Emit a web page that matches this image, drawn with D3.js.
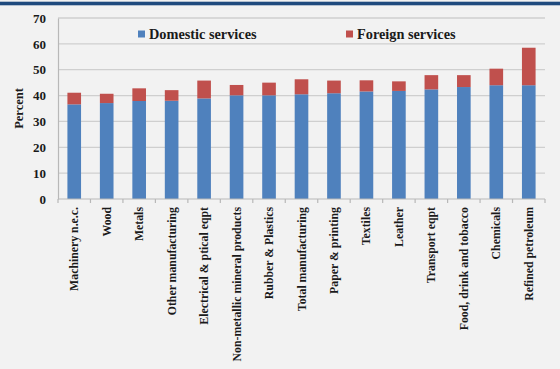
<!DOCTYPE html>
<html>
<head>
<meta charset="utf-8">
<script src="https://cdn.jsdelivr.net/npm/d3@7"></script>
<style>
  html, body { margin: 0; padding: 0; background: #f2f2f2; }
  svg { display: block; }
  text { font-family: "Liberation Serif", "Times New Roman", serif; font-weight: bold; fill: #1a1a1a; }
</style>
</head>
<body>
<svg id="chart" width="560" height="369"></svg>
<script>
// Service content of manufacturing output, by sector
const categories = [
  "Machinery n.e.c.", "Wood", "Metals", "Other manufacturing",
  "Electrical & ptical eqpt", "Non-metallic mineral products",
  "Rubber & Plastics", "Total manufacturing", "Paper & printing",
  "Textiles", "Leather", "Transport eqpt", "Food, drink and tobacco",
  "Chemicals", "Refined petroleum"
];
const domestic = [36.6, 37.1, 37.9, 38.0, 38.9, 40.1, 40.1, 40.5, 40.9, 41.6, 41.8, 42.4, 43.3, 44.0, 44.0];
const foreign  = [4.5, 3.6, 4.9, 4.1, 6.9, 4.0, 4.9, 5.8, 4.9, 4.3, 3.7, 5.5, 4.6, 6.4, 14.5];
const yTicks = [0, 10, 20, 30, 40, 50, 60, 70];
const seriesNames = ["Domestic services", "Foreign services"];
const seriesColors = ["#4f81bd", "#c0504d"];

const svg = d3.select("#chart");

// header rule
svg.append("rect").attr("x", 0).attr("y", 1.7).attr("width", 560).attr("height", 3.6).attr("fill", "#1f4a7e");

const margin = { left: 58, right: 15, top: 18, bottom: 170 };
const W = 560, H = 369;

const x = d3.scaleBand().domain(categories).range([margin.left, W - margin.right]).paddingInner(0.58).paddingOuter(0.29);
const y = d3.scaleLinear().domain([0, 70]).range([H - margin.bottom, margin.top]);

// gridlines
svg.append("g").selectAll("line").data(yTicks.filter(d => d > 0)).join("line")
  .attr("x1", margin.left).attr("x2", W - margin.right)
  .attr("y1", d => y(d)).attr("y2", d => y(d))
  .attr("stroke", "#cfcfcf").attr("stroke-width", 1.3);

// stacked bars
const rows = categories.map((c, i) => ({ cat: c, domestic: domestic[i], foreign: foreign[i] }));
const stack = d3.stack().keys(["domestic", "foreign"])(rows);
svg.append("g").selectAll("g").data(stack).join("g")
  .attr("fill", (d, i) => seriesColors[i])
  .selectAll("rect").data(d => d).join("rect")
  .attr("x", d => x(d.data.cat))
  .attr("width", x.bandwidth())
  .attr("y", d => y(d[1]))
  .attr("height", d => y(d[0]) - y(d[1]));

// y axis
const yAxis = svg.append("g").attr("transform", `translate(${margin.left},0)`)
  .call(d3.axisLeft(y).tickValues(yTicks).tickSize(0).tickPadding(12));
yAxis.select(".domain").attr("stroke", "#b8b8b8").attr("stroke-width", 1.2);
yAxis.selectAll("text").attr("font-size", 13).attr("fill", "#1a1a1a");

// x axis with tick marks between categories
const xAxisG = svg.append("g").attr("transform", `translate(0,${y(0)})`);
xAxisG.append("line").attr("x1", margin.left).attr("x2", W - margin.right)
  .attr("stroke", "#b8b8b8").attr("stroke-width", 1.2);
const bounds = d3.range(categories.length + 1).map(i => margin.left + i * (W - margin.left - margin.right) / categories.length);
xAxisG.selectAll("line.tk").data(bounds).join("line").attr("class", "tk")
  .attr("x1", d => d).attr("x2", d => d).attr("y1", 0).attr("y2", 4)
  .attr("stroke", "#b8b8b8").attr("stroke-width", 1.2);
xAxisG.selectAll("text").data(categories).join("text")
  .attr("transform", d => `translate(${x(d) + x.bandwidth() / 2 + 4},8) rotate(-90)`)
  .attr("text-anchor", "end")
  .attr("font-size", 11.8)
  .text(d => d);

// y axis title
svg.append("text").attr("transform", `translate(23,${(y(0) + y(70)) / 2}) rotate(-90)`)
  .attr("text-anchor", "middle").attr("font-size", 12.5).text("Percent");

// legend
const legendX = [138, 346];
const lg = svg.append("g").selectAll("g").data(seriesNames).join("g")
  .attr("transform", (d, i) => `translate(${legendX[i]},34)`);
lg.append("rect").attr("x", 0).attr("y", -3.5).attr("width", 7).attr("height", 7)
  .attr("fill", (d, i) => seriesColors[i]);
lg.append("text").attr("x", 11).attr("y", 4.8).attr("font-size", 14.3).text(d => d);
</script>
</body>
</html>
